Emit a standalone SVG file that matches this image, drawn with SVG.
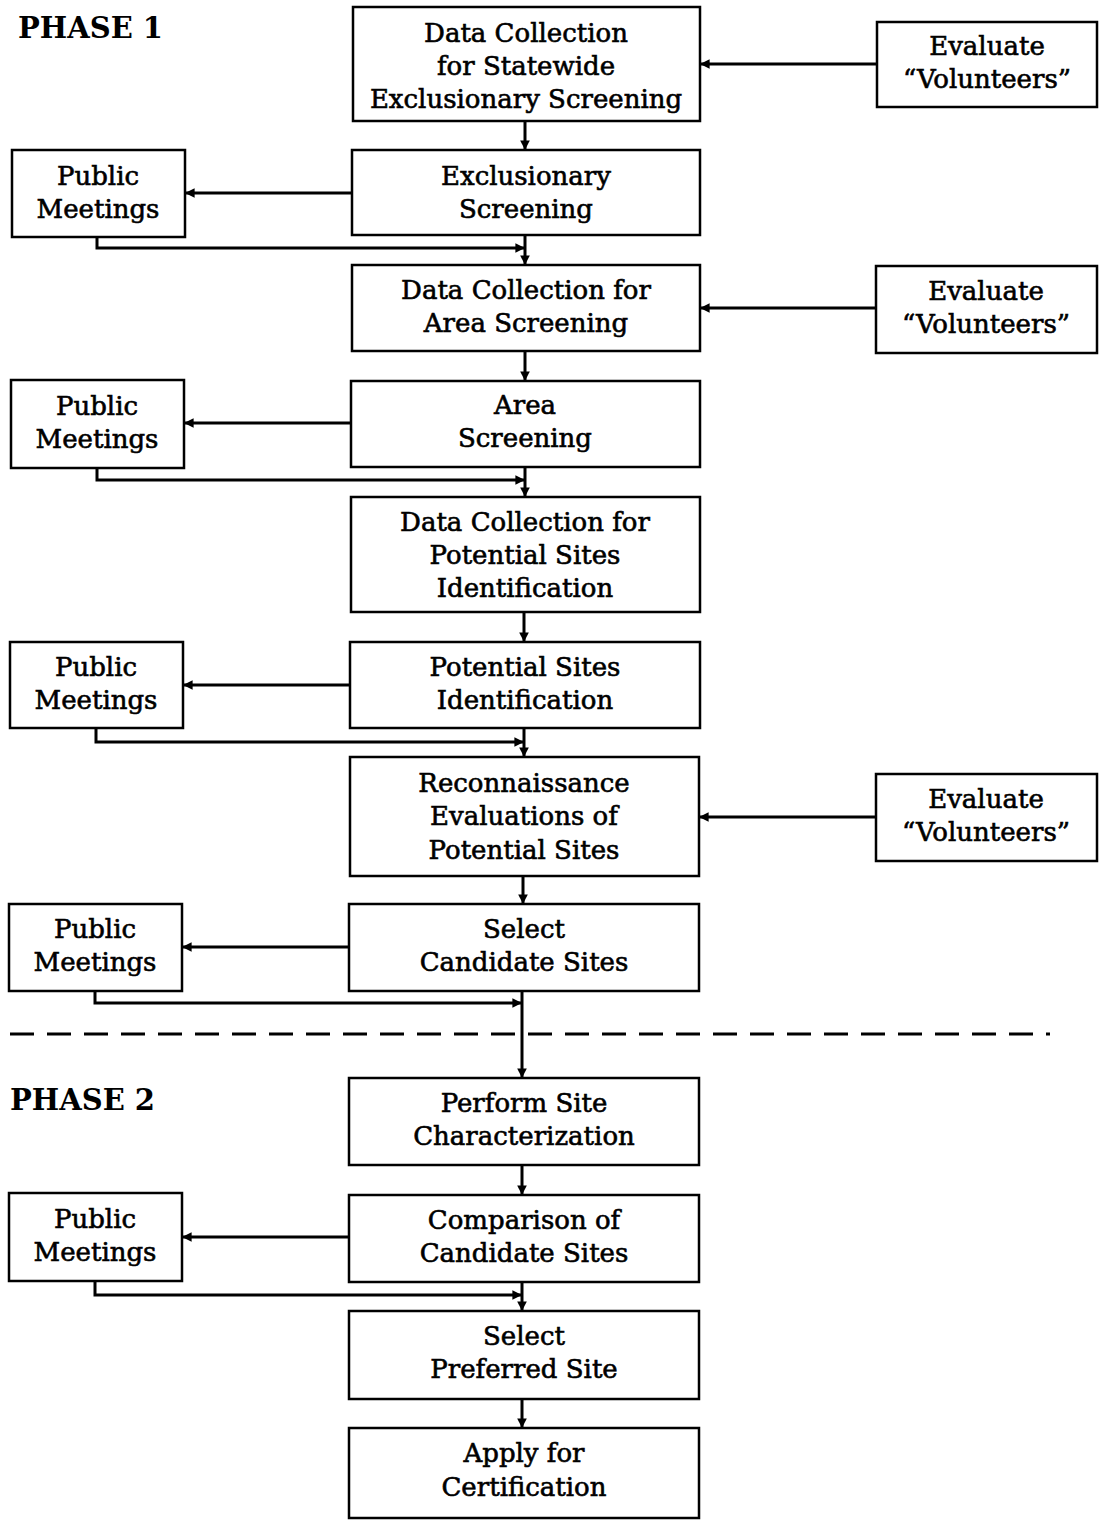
<svg xmlns="http://www.w3.org/2000/svg" width="1104" height="1523" viewBox="0 0 1104 1523">
<style>
.box{fill:#fff;stroke:#000;stroke-width:2.5}
.t{font-family:"DejaVu Serif","Liberation Serif",serif;font-size:26px;text-anchor:middle;fill:#000;stroke:#000;stroke-width:0.6}
.ph{font-family:"DejaVu Serif","Liberation Serif",serif;font-size:29px;font-weight:bold;fill:#000}
.c{fill:none;stroke:#000;stroke-width:3}
.d{fill:none;stroke:#000;stroke-width:3;stroke-dasharray:24 13}
</style>
<defs>
<marker id="a" viewBox="0 0 10 10" refX="10" refY="5" markerWidth="3.2" markerHeight="3.2" orient="auto" markerUnits="strokeWidth">
<path d="M0,0 L10,5 L0,10 z" fill="#000"/>
</marker>
</defs>
<rect width="1104" height="1523" fill="#fff"/>
<text class="ph" x="18" y="38">PHASE 1</text>
<text class="ph" x="10" y="1110">PHASE 2</text>

<g id="connectors">
<path class="c" d="M525 121 V150" marker-end="url(#a)"/>
<path class="c" d="M877 64 H700" marker-end="url(#a)"/>
<path class="c" d="M352 193 H185" marker-end="url(#a)"/>
<path class="c" d="M97 237 V248 H525" marker-end="url(#a)"/>
<path class="c" d="M525 235 V265" marker-end="url(#a)"/>
<path class="c" d="M876 308 H700" marker-end="url(#a)"/>
<path class="c" d="M525 351 V381" marker-end="url(#a)"/>
<path class="c" d="M351 423 H184" marker-end="url(#a)"/>
<path class="c" d="M97 468 V480 H525" marker-end="url(#a)"/>
<path class="c" d="M525 467 V497" marker-end="url(#a)"/>
<path class="c" d="M524 612 V642" marker-end="url(#a)"/>
<path class="c" d="M350 685 H183" marker-end="url(#a)"/>
<path class="c" d="M96 728 V742 H524" marker-end="url(#a)"/>
<path class="c" d="M524 728 V757" marker-end="url(#a)"/>
<path class="c" d="M876 817 H699" marker-end="url(#a)"/>
<path class="c" d="M523 876 V904" marker-end="url(#a)"/>
<path class="c" d="M349 947 H182" marker-end="url(#a)"/>
<path class="c" d="M95 991 V1003 H522" marker-end="url(#a)"/>
<path class="c" d="M522 991 V1078" marker-end="url(#a)"/>
<path class="c" d="M522 1165 V1195" marker-end="url(#a)"/>
<path class="c" d="M349 1237 H182" marker-end="url(#a)"/>
<path class="c" d="M95 1281 V1295 H522" marker-end="url(#a)"/>
<path class="c" d="M522 1282 V1311" marker-end="url(#a)"/>
<path class="c" d="M522 1399 V1428" marker-end="url(#a)"/>
<path class="d" d="M10 1034 H1050"/>
</g>

<g id="n1"><rect class="box" x="353" y="7" width="347" height="114"/>
<text class="t" x="526" y="42">Data Collection</text><text class="t" x="526" y="75">for Statewide</text><text class="t" x="526" y="108">Exclusionary Screening</text></g>
<g id="ev1"><rect class="box" x="877" y="22" width="220" height="85"/>
<text class="t" x="987" y="55">Evaluate</text><text class="t" x="987" y="88">“Volunteers”</text></g>
<g id="n2"><rect class="box" x="352" y="150" width="348" height="85"/>
<text class="t" x="526" y="185">Exclusionary</text><text class="t" x="526" y="218">Screening</text></g>
<g id="pm1"><rect class="box" x="12" y="150" width="173" height="87"/>
<text class="t" x="98" y="185">Public</text><text class="t" x="98" y="218">Meetings</text></g>
<g id="n3"><rect class="box" x="352" y="265" width="348" height="86"/>
<text class="t" x="526" y="299">Data Collection for</text><text class="t" x="526" y="332">Area Screening</text></g>
<g id="ev2"><rect class="box" x="876" y="266" width="221" height="87"/>
<text class="t" x="986" y="300">Evaluate</text><text class="t" x="986" y="333">“Volunteers”</text></g>
<g id="n4"><rect class="box" x="351" y="381" width="349" height="86"/>
<text class="t" x="525" y="414">Area</text><text class="t" x="525" y="447">Screening</text></g>
<g id="pm2"><rect class="box" x="11" y="380" width="173" height="88"/>
<text class="t" x="97" y="415">Public</text><text class="t" x="97" y="448">Meetings</text></g>
<g id="n5"><rect class="box" x="351" y="497" width="349" height="115"/>
<text class="t" x="525" y="531">Data Collection for</text><text class="t" x="525" y="564">Potential Sites</text><text class="t" x="525" y="597">Identification</text></g>
<g id="n6"><rect class="box" x="350" y="642" width="350" height="86"/>
<text class="t" x="525" y="676">Potential Sites</text><text class="t" x="525" y="709">Identification</text></g>
<g id="pm3"><rect class="box" x="10" y="642" width="173" height="86"/>
<text class="t" x="96" y="676">Public</text><text class="t" x="96" y="709">Meetings</text></g>
<g id="n7"><rect class="box" x="350" y="757" width="349" height="119"/>
<text class="t" x="524" y="792">Reconnaissance</text><text class="t" x="524" y="825">Evaluations of</text><text class="t" x="524" y="859">Potential Sites</text></g>
<g id="ev3"><rect class="box" x="876" y="774" width="221" height="87"/>
<text class="t" x="986" y="808">Evaluate</text><text class="t" x="986" y="841">“Volunteers”</text></g>
<g id="n8"><rect class="box" x="349" y="904" width="350" height="87"/>
<text class="t" x="524" y="938">Select</text><text class="t" x="524" y="971">Candidate Sites</text></g>
<g id="pm4"><rect class="box" x="9" y="904" width="173" height="87"/>
<text class="t" x="95" y="938">Public</text><text class="t" x="95" y="971">Meetings</text></g>
<g id="n9"><rect class="box" x="349" y="1078" width="350" height="87"/>
<text class="t" x="524" y="1112">Perform Site</text><text class="t" x="524" y="1145">Characterization</text></g>
<g id="n10"><rect class="box" x="349" y="1195" width="350" height="87"/>
<text class="t" x="524" y="1229">Comparison of</text><text class="t" x="524" y="1262">Candidate Sites</text></g>
<g id="pm5"><rect class="box" x="9" y="1193" width="173" height="88"/>
<text class="t" x="95" y="1228">Public</text><text class="t" x="95" y="1261">Meetings</text></g>
<g id="n11"><rect class="box" x="349" y="1311" width="350" height="88"/>
<text class="t" x="524" y="1345">Select</text><text class="t" x="524" y="1378">Preferred Site</text></g>
<g id="n12"><rect class="box" x="349" y="1428" width="350" height="90"/>
<text class="t" x="524" y="1462">Apply for</text><text class="t" x="524" y="1496">Certification</text></g>
</svg>
